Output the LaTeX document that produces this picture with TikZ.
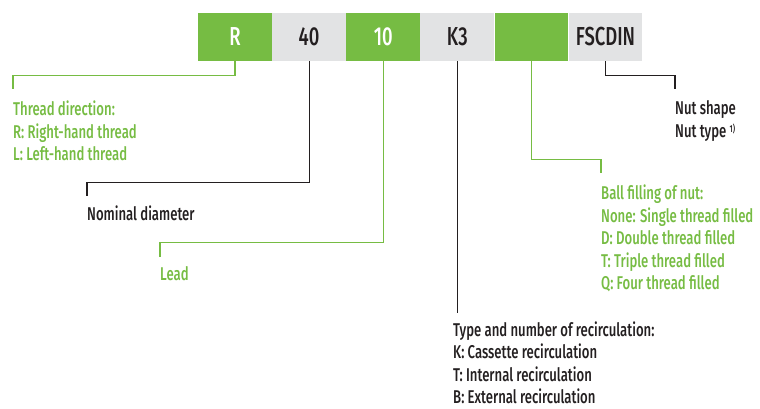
\documentclass[tikz,border=0pt]{standalone}
\usepackage{fontspec}
\setmainfont{Fira Sans Medium}[FakeStretch=0.71]
\usetikzlibrary{positioning,calc}
\definecolor{leaf}{HTML}{76BC43}
\definecolor{chip}{HTML}{E2E3E4}
\definecolor{ink}{HTML}{231F20}
\tikzset{
  seg/.style={minimum width=73.7pt,minimum height=48pt,inner sep=0pt,font=\fontsize{26}{26}\selectfont},
  greenseg/.style={seg,fill=leaf,text=white},
  grayseg/.style={seg,fill=chip,text=ink},
  note/.style={anchor=north west,inner sep=0pt,align=left,font=\fontsize{18.5}{22.6}\selectfont},
  greennote/.style={note,text=leaf},
  blacknote/.style={note,text=ink},
  greenlead/.style={draw=leaf,line width=1.2pt},
  blacklead/.style={draw=ink,line width=1.2pt},
}

\begin{document}
\begin{tikzpicture}[x=1pt,y=-1pt,node distance=0pt]
  \useasboundingbox (0,0) rectangle (760,408);
  % order code
  \node[greenseg] (rbox) at (235,37) {R};
  \node[grayseg,right=of rbox] (diabox) {40};
  \node[greenseg,right=of diabox] (leadbox) {10};
  \node[grayseg,right=of leadbox] (recbox) {K3};
  \node[greenseg,right=of recbox] (ballbox) {};
  \node[grayseg,right=of ballbox] (nutbox) {FSCDIN};
  % notes
  \node[greennote] (dirtxt) at (13,100.5) {Thread direction:\\R: Right-hand thread\\L: Left-hand thread};
  \node[blacknote] (diatxt) at (87,205.5) {Nominal diameter};
  \node[greennote] (leadtxt) at (160,266) {Lead};
  \node[blacknote,font=\fontsize{18.5}{22.3}\selectfont] (rectxt) at (453,321.5) {Type and number of recirculation:\\K: Cassette recirculation\\T: Internal recirculation\\B: External recirculation};
  \node[greennote] (balltxt) at (601,184.5) {Ball filling of nut:\\None: Single thread filled\\D: Double thread filled\\T: Triple thread filled\\Q: Four thread filled};
  \node[blacknote] (nuttxt) at (675,100.5) {Nut shape\\Nut type {\fontsize{10}{10}\selectfont\raisebox{5pt}{1)}}};
  % leader lines
  \draw[greenlead] (rbox.south) -- ++(0,14) -| ([yshift=11.5pt]dirtxt.north west);
  \draw[blacklead] (diabox.south) -- ++(0,121) -| ([yshift=9.5pt]diatxt.north west);
  \draw[greenlead] (leadbox.south) -- ++(0,181) -| ([yshift=9pt]leadtxt.north west);
  \draw[blacklead] (recbox.south) -- ($(recbox.south |- rectxt.north)+(0,-8.5)$);
  \draw[greenlead] (ballbox.south) -- ++(0,98) -| ([yshift=11.5pt]balltxt.north west);
  \draw[blacklead] (nutbox.south) -- ++(0,14) -| ([yshift=11.5pt]nuttxt.north west);
\end{tikzpicture}
\end{document}
